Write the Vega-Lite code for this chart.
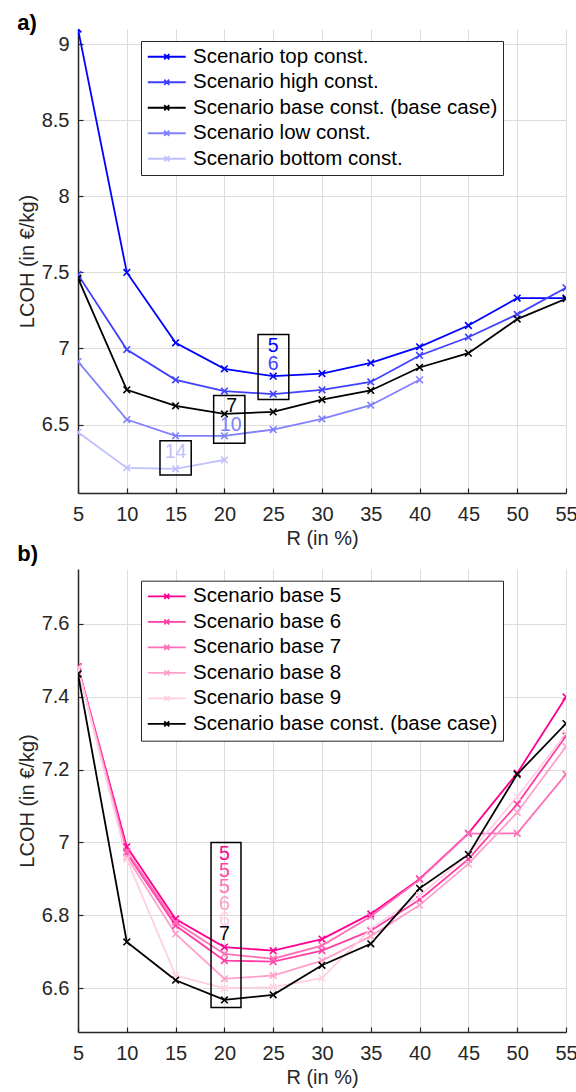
{
  "$schema": "https://vega.github.io/schema/vega-lite/v6.json",
  "background": "white",
  "padding": {"left": 17, "top": 12, "right": 5, "bottom": 5},
  "spacing": -6,
  "config": {
    "view": {"stroke": null},
    "font": "Liberation Sans",
    "axis": {
      "labelFont": "Liberation Sans", "labelFontSize": 20, "labelColor": "#262626",
      "titleFont": "Liberation Sans", "titleFontSize": 20, "titleFontWeight": "normal", "titleColor": "#262626",
      "domainColor": "#262626", "domainWidth": 1.5, "tickColor": "#262626", "tickWidth": 1.2, "tickSize": -5,
      "gridColor": "#dcdcdc", "gridWidth": 1, "grid": true, "labelFlush": false
    },
    "axisX": {"labelPadding": 16.4, "titlePadding": 4},
    "axisY": {"labelPadding": 14, "titlePadding": 4},
    "legend": {
      "orient": "none", "legendX": 63, "legendY": 12,
      "labelFont": "Liberation Sans", "labelFontSize": 20.5, "labelColor": "#000000", "labelLimit": 600,
      "symbolSize": 160, "symbolStrokeWidth": 1.8, "symbolOffset": 10, "labelOffset": 16,
      "rowPadding": 4.5, "padding": 5.5, "strokeColor": "#262626", "fillColor": "#ffffff", "symbolOpacity": 1
    },
    "title": {"font": "Liberation Sans", "fontSize": 22, "fontWeight": "bold", "anchor": "start", "frame": "bounds", "baseline": "alphabetic", "offset": 0, "color": "#000000"}
  },
  "resolve": {"scale": {"color": "independent"}, "legend": {"color": "independent"}},
  "datasets": {
    "a": [
      {"s": "Scenario top const.", "R": 5, "LCOH": 9.1},
      {"s": "Scenario top const.", "R": 10, "LCOH": 7.5},
      {"s": "Scenario top const.", "R": 15, "LCOH": 7.037},
      {"s": "Scenario top const.", "R": 20, "LCOH": 6.866},
      {"s": "Scenario top const.", "R": 25, "LCOH": 6.818},
      {"s": "Scenario top const.", "R": 30, "LCOH": 6.835},
      {"s": "Scenario top const.", "R": 35, "LCOH": 6.906},
      {"s": "Scenario top const.", "R": 40, "LCOH": 7.011},
      {"s": "Scenario top const.", "R": 45, "LCOH": 7.151},
      {"s": "Scenario top const.", "R": 50, "LCOH": 7.331},
      {"s": "Scenario top const.", "R": 55, "LCOH": 7.331},
      {"s": "Scenario high const.", "R": 5, "LCOH": 7.485},
      {"s": "Scenario high const.", "R": 10, "LCOH": 6.993},
      {"s": "Scenario high const.", "R": 15, "LCOH": 6.794},
      {"s": "Scenario high const.", "R": 20, "LCOH": 6.72},
      {"s": "Scenario high const.", "R": 25, "LCOH": 6.70},
      {"s": "Scenario high const.", "R": 30, "LCOH": 6.728},
      {"s": "Scenario high const.", "R": 35, "LCOH": 6.78},
      {"s": "Scenario high const.", "R": 40, "LCOH": 6.954},
      {"s": "Scenario high const.", "R": 45, "LCOH": 7.074},
      {"s": "Scenario high const.", "R": 50, "LCOH": 7.224},
      {"s": "Scenario high const.", "R": 55, "LCOH": 7.399},
      {"s": "Scenario base const. (base case)", "R": 5, "LCOH": 7.462},
      {"s": "Scenario base const. (base case)", "R": 10, "LCOH": 6.728},
      {"s": "Scenario base const. (base case)", "R": 15, "LCOH": 6.623},
      {"s": "Scenario base const. (base case)", "R": 20, "LCOH": 6.570},
      {"s": "Scenario base const. (base case)", "R": 25, "LCOH": 6.583},
      {"s": "Scenario base const. (base case)", "R": 30, "LCOH": 6.664},
      {"s": "Scenario base const. (base case)", "R": 35, "LCOH": 6.724},
      {"s": "Scenario base const. (base case)", "R": 40, "LCOH": 6.875},
      {"s": "Scenario base const. (base case)", "R": 45, "LCOH": 6.969},
      {"s": "Scenario base const. (base case)", "R": 50, "LCOH": 7.193},
      {"s": "Scenario base const. (base case)", "R": 55, "LCOH": 7.327},
      {"s": "Scenario low const.", "R": 5, "LCOH": 6.914},
      {"s": "Scenario low const.", "R": 10, "LCOH": 6.533},
      {"s": "Scenario low const.", "R": 15, "LCOH": 6.426},
      {"s": "Scenario low const.", "R": 20, "LCOH": 6.426},
      {"s": "Scenario low const.", "R": 25, "LCOH": 6.467},
      {"s": "Scenario low const.", "R": 30, "LCOH": 6.537},
      {"s": "Scenario low const.", "R": 35, "LCOH": 6.627},
      {"s": "Scenario low const.", "R": 40, "LCOH": 6.794},
      {"s": "Scenario bottom const.", "R": 5, "LCOH": 6.449},
      {"s": "Scenario bottom const.", "R": 10, "LCOH": 6.215},
      {"s": "Scenario bottom const.", "R": 15, "LCOH": 6.209},
      {"s": "Scenario bottom const.", "R": 20, "LCOH": 6.267}
    ],
    "aLab": [
      {"t": "5", "s": "Scenario top const.", "R": 25, "LCOH": 7.015},
      {"t": "6", "s": "Scenario high const.", "R": 25, "LCOH": 6.90},
      {"t": "7", "s": "Scenario base const. (base case)", "R": 20.75, "LCOH": 6.62},
      {"t": "10", "s": "Scenario low const.", "R": 20.65, "LCOH": 6.494},
      {"t": "14", "s": "Scenario bottom const.", "R": 15, "LCOH": 6.32}
    ],
    "aBox": [
      {"R": 23.45, "R2": 26.6, "LCOH": 7.092, "LCOH2": 6.664},
      {"R": 18.9, "R2": 22.1, "LCOH": 6.691, "LCOH2": 6.377},
      {"R": 13.4, "R2": 16.6, "LCOH": 6.393, "LCOH2": 6.169}
    ],
    "b": [
      {"s": "Scenario base 5", "R": 5, "LCOH": 7.482},
      {"s": "Scenario base 5", "R": 10, "LCOH": 6.988},
      {"s": "Scenario base 5", "R": 15, "LCOH": 6.790},
      {"s": "Scenario base 5", "R": 20, "LCOH": 6.713},
      {"s": "Scenario base 5", "R": 25, "LCOH": 6.703},
      {"s": "Scenario base 5", "R": 30, "LCOH": 6.735},
      {"s": "Scenario base 5", "R": 35, "LCOH": 6.804},
      {"s": "Scenario base 5", "R": 40, "LCOH": 6.900},
      {"s": "Scenario base 5", "R": 45, "LCOH": 7.025},
      {"s": "Scenario base 5", "R": 50, "LCOH": 7.19},
      {"s": "Scenario base 5", "R": 55, "LCOH": 7.399},
      {"s": "Scenario base 6", "R": 5, "LCOH": 7.481},
      {"s": "Scenario base 6", "R": 10, "LCOH": 6.97},
      {"s": "Scenario base 6", "R": 15, "LCOH": 6.772},
      {"s": "Scenario base 6", "R": 20, "LCOH": 6.676},
      {"s": "Scenario base 6", "R": 25, "LCOH": 6.673},
      {"s": "Scenario base 6", "R": 30, "LCOH": 6.703},
      {"s": "Scenario base 6", "R": 35, "LCOH": 6.758},
      {"s": "Scenario base 6", "R": 40, "LCOH": 6.843},
      {"s": "Scenario base 6", "R": 45, "LCOH": 6.954},
      {"s": "Scenario base 6", "R": 50, "LCOH": 7.105},
      {"s": "Scenario base 6", "R": 55, "LCOH": 7.292},
      {"s": "Scenario base 7", "R": 5, "LCOH": 7.48},
      {"s": "Scenario base 7", "R": 10, "LCOH": 6.975},
      {"s": "Scenario base 7", "R": 15, "LCOH": 6.781},
      {"s": "Scenario base 7", "R": 20, "LCOH": 6.694},
      {"s": "Scenario base 7", "R": 25, "LCOH": 6.681},
      {"s": "Scenario base 7", "R": 30, "LCOH": 6.717},
      {"s": "Scenario base 7", "R": 35, "LCOH": 6.797},
      {"s": "Scenario base 7", "R": 40, "LCOH": 6.898},
      {"s": "Scenario base 7", "R": 45, "LCOH": 7.024},
      {"s": "Scenario base 7", "R": 50, "LCOH": 7.025},
      {"s": "Scenario base 7", "R": 55, "LCOH": 7.187},
      {"s": "Scenario base 8", "R": 5, "LCOH": 7.478},
      {"s": "Scenario base 8", "R": 10, "LCOH": 6.96},
      {"s": "Scenario base 8", "R": 15, "LCOH": 6.749},
      {"s": "Scenario base 8", "R": 20, "LCOH": 6.626},
      {"s": "Scenario base 8", "R": 25, "LCOH": 6.635},
      {"s": "Scenario base 8", "R": 30, "LCOH": 6.676},
      {"s": "Scenario base 8", "R": 35, "LCOH": 6.743},
      {"s": "Scenario base 8", "R": 40, "LCOH": 6.828},
      {"s": "Scenario base 8", "R": 45, "LCOH": 6.941},
      {"s": "Scenario base 8", "R": 50, "LCOH": 7.082},
      {"s": "Scenario base 8", "R": 55, "LCOH": 7.263},
      {"s": "Scenario base 9", "R": 5, "LCOH": 7.476},
      {"s": "Scenario base 9", "R": 10, "LCOH": 6.954},
      {"s": "Scenario base 9", "R": 15, "LCOH": 6.635},
      {"s": "Scenario base 9", "R": 20, "LCOH": 6.600},
      {"s": "Scenario base 9", "R": 25, "LCOH": 6.603},
      {"s": "Scenario base 9", "R": 30, "LCOH": 6.628},
      {"s": "Scenario base 9", "R": 35, "LCOH": 6.763},
      {"s": "Scenario base 9", "R": 40, "LCOH": 6.854},
      {"s": "Scenario base 9", "R": 45, "LCOH": 6.968},
      {"s": "Scenario base 9", "R": 50, "LCOH": 7.125},
      {"s": "Scenario base 9", "R": 55, "LCOH": 7.299},
      {"s": "Scenario base const. (base case)", "R": 5, "LCOH": 7.462},
      {"s": "Scenario base const. (base case)", "R": 10, "LCOH": 6.727},
      {"s": "Scenario base const. (base case)", "R": 15, "LCOH": 6.622},
      {"s": "Scenario base const. (base case)", "R": 20, "LCOH": 6.568},
      {"s": "Scenario base const. (base case)", "R": 25, "LCOH": 6.582},
      {"s": "Scenario base const. (base case)", "R": 30, "LCOH": 6.663},
      {"s": "Scenario base const. (base case)", "R": 35, "LCOH": 6.722},
      {"s": "Scenario base const. (base case)", "R": 40, "LCOH": 6.874},
      {"s": "Scenario base const. (base case)", "R": 45, "LCOH": 6.967},
      {"s": "Scenario base const. (base case)", "R": 50, "LCOH": 7.187},
      {"s": "Scenario base const. (base case)", "R": 55, "LCOH": 7.326}
    ],
    "bLab": [
      {"t": "5", "s": "Scenario base 5", "R": 20, "LCOH": 6.968},
      {"t": "5", "s": "Scenario base 6", "R": 20, "LCOH": 6.922},
      {"t": "5", "s": "Scenario base 7", "R": 20, "LCOH": 6.877},
      {"t": "6", "s": "Scenario base 8", "R": 20, "LCOH": 6.831},
      {"t": "6", "s": "Scenario base 9", "R": 20, "LCOH": 6.786},
      {"t": "7", "s": "Scenario base const. (base case)", "R": 20, "LCOH": 6.749}
    ],
    "bBox": [
      {"R": 18.63, "R2": 21.7, "LCOH": 7.0, "LCOH2": 6.547}
    ]
  },
  "vconcat": [
    {
      "width": 488, "height": 464,
      "title": {"text": "a)", "offset": -6},
      "layer": [
        {
          "data": {"name": "a"},
          "mark": {"type": "line", "strokeWidth": 1.8, "clip": true},
          "encoding": {
            "x": {"field": "R", "type": "quantitative", "title": "R (in %)", "scale": {"domain": [5, 55], "nice": false, "zero": false}, "axis": {"values": [5, 10, 15, 20, 25, 30, 35, 40, 45, 50, 55]}},
            "y": {"field": "LCOH", "type": "quantitative", "title": "LCOH (in €/kg)", "scale": {"domain": [6.05, 9.1], "nice": false, "zero": false}, "axis": {"values": [6.5, 7, 7.5, 8, 8.5, 9], "format": "~g"}},
            "color": {"field": "s", "type": "nominal",
              "scale": {"domain": ["Scenario top const.", "Scenario high const.", "Scenario base const. (base case)", "Scenario low const.", "Scenario bottom const."], "range": ["#0000ff", "#4040ff", "#000000", "#8080ff", "#c0c0ff"]},
              "legend": {"title": null, "symbolType": "M-3,0H3M-0.4,-0.4L0.4,0.4M-0.4,0.4L0.4,-0.4", "legendY": 12}}
          }
        },
        {
          "data": {"name": "a"},
          "mark": {"type": "point", "shape": "M-1,-1L1,1M-1,1L1,-1", "filled": false, "size": 44, "strokeWidth": 1.6, "opacity": 1, "clip": true},
          "encoding": {
            "x": {"field": "R", "type": "quantitative", "title": "R (in %)"},
            "y": {"field": "LCOH", "type": "quantitative", "title": "LCOH (in €/kg)"},
            "color": {"field": "s", "type": "nominal"}
          }
        },
        {
          "data": {"name": "aLab"},
          "mark": {"type": "text", "font": "Liberation Sans", "fontSize": 19.5, "align": "center", "baseline": "middle"},
          "encoding": {
            "x": {"field": "R", "type": "quantitative", "title": "R (in %)"},
            "y": {"field": "LCOH", "type": "quantitative", "title": "LCOH (in €/kg)"},
            "text": {"field": "t"},
            "color": {"field": "s", "type": "nominal"}
          }
        },
        {
          "data": {"name": "aBox"},
          "mark": {"type": "rect", "fillOpacity": 0, "stroke": "#000000", "strokeWidth": 1.5},
          "encoding": {
            "x": {"field": "R", "type": "quantitative", "title": "R (in %)"},
            "x2": {"field": "R2"},
            "y": {"field": "LCOH", "type": "quantitative", "title": "LCOH (in €/kg)"},
            "y2": {"field": "LCOH2"}
          }
        }
      ]
    },
    {
      "width": 488, "height": 463,
      "title": {"text": "b)", "offset": 3},
      "layer": [
        {
          "data": {"name": "b"},
          "mark": {"type": "line", "strokeWidth": 1.8, "clip": true},
          "encoding": {
            "x": {"field": "R", "type": "quantitative", "title": "R (in %)", "scale": {"domain": [5, 55], "nice": false, "zero": false}, "axis": {"values": [5, 10, 15, 20, 25, 30, 35, 40, 45, 50, 55]}},
            "y": {"field": "LCOH", "type": "quantitative", "title": "LCOH (in €/kg)", "scale": {"domain": [6.48, 7.75], "nice": false, "zero": false}, "axis": {"values": [6.6, 6.8, 7, 7.2, 7.4, 7.6], "format": "~g"}},
            "color": {"field": "s", "type": "nominal",
              "scale": {"domain": ["Scenario base 5", "Scenario base 6", "Scenario base 7", "Scenario base 8", "Scenario base 9", "Scenario base const. (base case)"], "range": ["#ff0090", "#ff3fa6", "#ff6fb8", "#ffa0cc", "#ffd0e4", "#000000"]},
              "legend": {"title": null, "symbolType": "M-3,0H3M-0.4,-0.4L0.4,0.4M-0.4,0.4L0.4,-0.4", "legendY": 11.7}}
          }
        },
        {
          "data": {"name": "b"},
          "mark": {"type": "point", "shape": "M-1,-1L1,1M-1,1L1,-1", "filled": false, "size": 44, "strokeWidth": 1.6, "opacity": 1, "clip": true},
          "encoding": {
            "x": {"field": "R", "type": "quantitative", "title": "R (in %)"},
            "y": {"field": "LCOH", "type": "quantitative", "title": "LCOH (in €/kg)"},
            "color": {"field": "s", "type": "nominal"}
          }
        },
        {
          "data": {"name": "bLab"},
          "mark": {"type": "text", "font": "Liberation Sans", "fontSize": 19.5, "align": "center", "baseline": "middle"},
          "encoding": {
            "x": {"field": "R", "type": "quantitative", "title": "R (in %)"},
            "y": {"field": "LCOH", "type": "quantitative", "title": "LCOH (in €/kg)"},
            "text": {"field": "t"},
            "color": {"field": "s", "type": "nominal"}
          }
        },
        {
          "data": {"name": "bBox"},
          "mark": {"type": "rect", "fillOpacity": 0, "stroke": "#000000", "strokeWidth": 1.5},
          "encoding": {
            "x": {"field": "R", "type": "quantitative", "title": "R (in %)"},
            "x2": {"field": "R2"},
            "y": {"field": "LCOH", "type": "quantitative", "title": "LCOH (in €/kg)"},
            "y2": {"field": "LCOH2"}
          }
        }
      ]
    }
  ]
}
